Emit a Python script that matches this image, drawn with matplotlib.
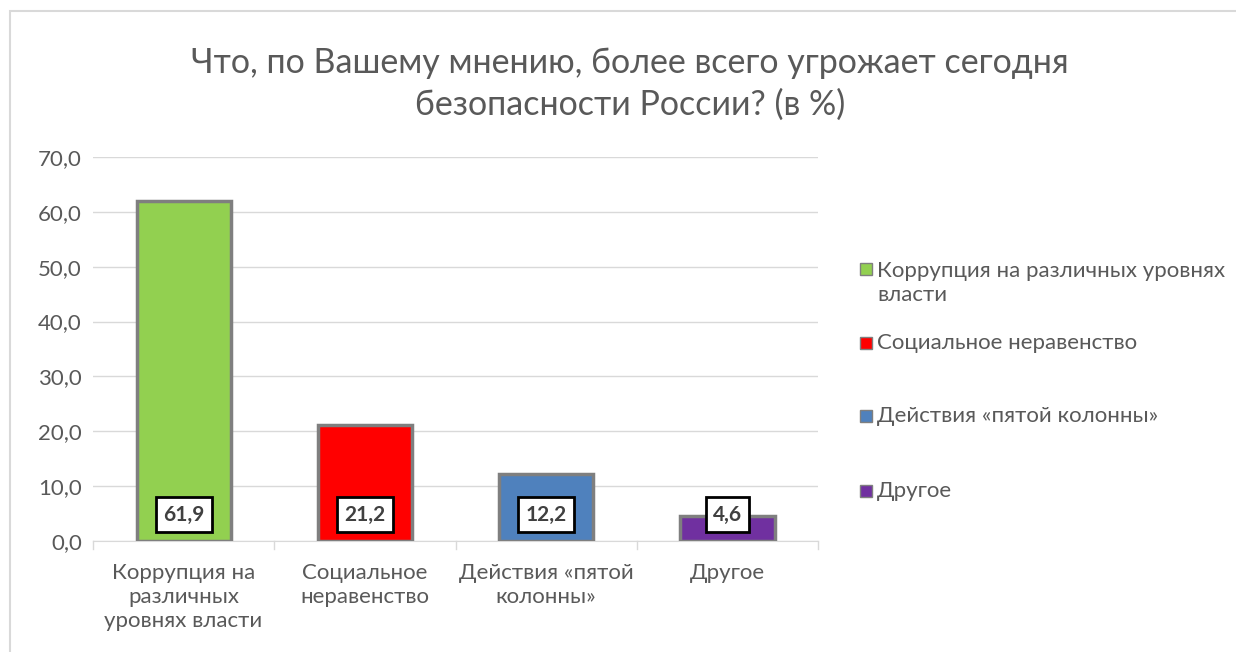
import matplotlib.pyplot as plt
from matplotlib.patches import Rectangle

plt.rcParams['font.family'] = ['Lato', 'DejaVu Sans']

categories = ['Коррупция на различных уровнях власти', 'Социальное неравенство',
              'Действия «пятой колонны»', 'Другое']
tick_labels = ['Коррупция на\nразличных\nуровнях власти', 'Социальное\nнеравенство',
               'Действия «пятой\nколонны»', 'Другое']
legend_labels = ['Коррупция на различных уровнях\nвласти', 'Социальное неравенство',
                 'Действия «пятой колонны»', 'Другое']
values = [61.9, 21.2, 12.2, 4.6]
colors = ['#92d050', '#ff0000', '#4f81bd', '#7030a0']
value_labels = ['61,9', '21,2', '12,2', '4,6']

fig = plt.figure(figsize=(12.36, 6.52), dpi=100)
ax = fig.add_axes([93/1236, 1 - 541/652, (818 - 93)/1236, (541 - 157)/652])

# рамка диаграммы
fig.patches.append(Rectangle((10/1236, -0.1), 1.2, 1 - 11/652 + 0.1, transform=fig.transFigure,
                             fill=False, edgecolor='#d9d9d9', linewidth=1.5))

x = range(len(values))
ax.bar(x, values, width=0.52, color=colors, edgecolor='#7f7f7f', linewidth=2.5, zorder=3)

for i, v in enumerate(values):
    ax.text(i, 4.8, value_labels[i], ha='center', va='center', fontsize=15, fontweight='bold',
            color='#404040', zorder=5,
            bbox=dict(boxstyle='square,pad=0.35', facecolor='white', edgecolor='black', linewidth=2))

ax.set_ylim(0, 70)
ax.set_yticks(range(0, 71, 10))
ax.set_yticklabels(['%d,0' % t for t in range(0, 71, 10)], fontsize=16, color='#595959')
ax.set_xlim(-0.5, 3.5)
ax.set_xticks(list(x))
ax.set_xticklabels(tick_labels, fontsize=16, color='#595959', linespacing=1.25)
ax.tick_params(axis='both', length=0, pad=8)
ax.tick_params(axis='x', pad=16)
# засечки между категориями
for b in [-0.5, 0.5, 1.5, 2.5, 3.5]:
    ax.plot([b, b], [0, -1.5], color='#d9d9d9', linewidth=1, clip_on=False)

ax.grid(axis='y', color='#d9d9d9', linewidth=1, zorder=0)
for s in ['top', 'right', 'left']:
    ax.spines[s].set_visible(False)
ax.spines['bottom'].set_color('#d9d9d9')

fig.text(630/1236, 1 - 84/652, 'Что, по Вашему мнению, более всего угрожает сегодня\nбезопасности России? (в %)',
         ha='center', va='center', fontsize=24.5, color='#595959', linespacing=1.35)

legend_y = [283, 343, 416, 491]
for lab, c, yy in zip(legend_labels, colors, legend_y):
    fy = 1 - yy/652
    my = fy + 8/652 if '\n' in lab else fy - 6/652
    fig.patches.append(Rectangle((860/1236, my), 12/1236, 12/652,
                                 transform=fig.transFigure, facecolor=c, edgecolor='#7f7f7f', linewidth=1))
    fig.text(877/1236, fy, lab, ha='left', va='center', fontsize=16, color='#595959', linespacing=1.3)

fig.savefig('out.png', dpi=100)
